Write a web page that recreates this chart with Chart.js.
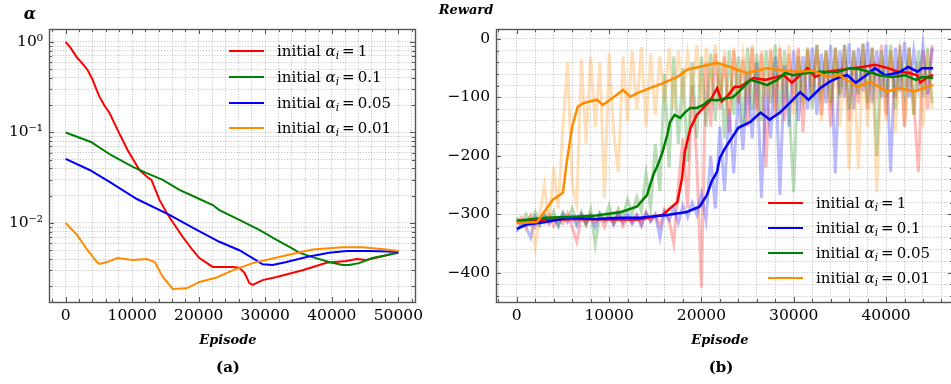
<!DOCTYPE html>
<html>
<head>
<meta charset="utf-8">
<script src="https://cdn.jsdelivr.net/npm/chart.js@4.4.1/dist/chart.umd.min.js"></script>
<style>
  html, body { margin: 0; padding: 0; background: #fff; width: 951px; height: 384px; overflow: hidden; }
  .panel { position: absolute; top: 0; }
  .txt { position: absolute; font-family: 'DejaVu Serif', serif; color: #000; white-space: nowrap; transform: translate(-50%, -50%); }
  .axt { font-size: 13px; font-weight: bold; font-style: italic; }
  .cap { font-size: 15px; font-weight: bold; }
  .leg { position: absolute; font-family: 'DejaVu Serif', serif; font-size: 15px; }
  .leg .row { position: absolute; left: 0; height: 24px; display: flex; align-items: center; white-space: nowrap; transform: translateY(-50%); }
  .leg .sw { display: inline-block; width: 35px; height: 2.5px; margin-right: 13px; }
  .leg sub { font-size: 0.7em; vertical-align: -0.3em; line-height: 0; }
  .leg .eq { margin: 0 3px; }
</style>
</head>
<body>
<canvas id="chartA" class="panel" style="left:0" width="440" height="384"></canvas>
<canvas id="chartB" class="panel" style="left:440px" width="520" height="384"></canvas>

<div class="txt axt" style="left:30px;top:13px;font-size:16px">α</div>
<div class="txt axt" style="left:466px;top:9px">Reward</div>
<div class="txt axt" style="left:228px;top:339px">Episode</div>
<div class="txt axt" style="left:720px;top:339px">Episode</div>
<div class="txt cap" style="left:228px;top:367px">(a)</div>
<div class="txt cap" style="left:721px;top:367px">(b)</div>
<div id="legendA" class="leg" style="left:229px;top:0"></div>
<div id="legendB" class="leg" style="left:768px;top:0"></div>

<script>
// ---- panel (a): alpha over training ----
const a1Ep  = [0, 800, 1650, 2500, 3300, 4000, 4700, 5100, 5800, 6600, 7800, 9300, 11100, 12300, 12900, 14100, 15200, 16100, 17600, 19100, 20100, 22100, 25100, 26100, 26900, 27600, 28100, 29600, 31700, 35600, 39200, 42200, 43700, 45200, 48200, 50000];
const a1    = [1.0, 0.85, 0.68, 0.58, 0.49, 0.39, 0.29, 0.247, 0.2, 0.164, 0.107, 0.064, 0.0385, 0.032, 0.030, 0.018, 0.0129, 0.0102, 0.0070, 0.0050, 0.0041, 0.00327, 0.00327, 0.0032, 0.0028, 0.00217, 0.00207, 0.00234, 0.00253, 0.0030, 0.00363, 0.0038, 0.0040, 0.0039, 0.0044, 0.0048];
const a01Ep = [0, 3800, 6800, 10100, 12200, 14600, 17100, 19700, 22100, 23100, 26100, 29100, 31700, 33900, 35100, 37100, 39600, 41600, 42600, 44100, 46100, 48200, 50000];
const a01   = [0.1, 0.0785, 0.0564, 0.0416, 0.0356, 0.0299, 0.0232, 0.019, 0.0158, 0.0139, 0.0108, 0.0084, 0.0065, 0.0053, 0.0047, 0.0042, 0.0037, 0.00343, 0.00343, 0.0036, 0.0041, 0.0044, 0.0047];
const a005Ep = [0, 3600, 6600, 10700, 15600, 19700, 23100, 26100, 28100, 29600, 31100, 33200, 36200, 39600, 42200, 45600, 50000];
const a005   = [0.051, 0.0385, 0.0284, 0.0184, 0.0123, 0.0084, 0.0062, 0.0050, 0.0041, 0.0035, 0.00343, 0.0037, 0.0042, 0.0047, 0.0049, 0.0049, 0.0048];
const a001Ep = [0, 1700, 3300, 4700, 5100, 6200, 7800, 10100, 12200, 13400, 14600, 16100, 18200, 20100, 22700, 25100, 28100, 33200, 37100, 41600, 44600, 48200, 50000];
const a001   = [0.01, 0.0074, 0.0050, 0.0037, 0.00352, 0.0037, 0.0041, 0.0039, 0.0040, 0.0037, 0.00253, 0.00187, 0.0019, 0.00223, 0.0025, 0.0030, 0.0036, 0.0044, 0.0051, 0.0054, 0.0054, 0.0051, 0.0049];

const alphaTickValues = [1, 0.1, 0.01];
const alphaTickLabels = ['10⁰', '10⁻¹', '10⁻²'];
const episodeTicksA = [0, 10000, 20000, 30000, 40000, 50000];

// ---- panel (b): reward, smoothed curves ----
const s1Ep = [0, 6500, 11200, 13300, 15800, 17400, 17900, 18200, 18800, 19500, 20200, 20900, 21700, 22200, 22900, 23600, 24200, 25600, 26900, 28900, 29800, 31500, 32300, 33600, 35000, 36400, 37400, 38800, 40200, 41300, 42400, 43400, 43700, 44500, 45100];
const s1   = [-312, -308, -309, -309, -301, -279, -238, -193, -153, -130, -118, -107, -84, -107, -96, -82, -82, -67, -70, -62, -75, -50, -65, -56, -53, -50, -48, -44, -50, -56, -58, -62, -75, -65, -62];
const s01Ep = [0, 1000, 3100, 5600, 8600, 11300, 13300, 16300, 18400, 19800, 20600, 21100, 21700, 22000, 22600, 23300, 24000, 25300, 26400, 27400, 28500, 29600, 30700, 31600, 32900, 33900, 35000, 35800, 36700, 37700, 38800, 39900, 41300, 42400, 43400, 43900, 45100];
const s01   = [-325, -318, -313, -306, -308, -306, -306, -301, -296, -287, -267, -244, -227, -203, -186, -169, -152, -142, -126, -138, -126, -109, -91, -104, -84, -73, -65, -62, -75, -64, -50, -62, -58, -48, -56, -50, -50];
const s005Ep = [0, 3100, 6100, 8600, 11300, 13000, 14100, 14800, 15300, 15800, 16300, 16600, 17100, 17700, 18200, 18800, 19500, 20200, 20900, 21700, 22800, 23400, 24200, 25300, 26400, 27100, 28200, 29100, 29900, 31500, 32900, 34700, 36100, 37200, 38100, 39200, 40700, 42100, 43200, 43900, 45100];
const s005   = [-311, -306, -304, -302, -296, -287, -267, -232, -215, -193, -164, -142, -130, -135, -126, -118, -118, -113, -104, -105, -101, -100, -88, -70, -75, -79, -70, -58, -62, -58, -56, -57, -50, -52, -56, -62, -65, -62, -70, -65, -67];
const s001Ep = [0, 2200, 3900, 5000, 5400, 6000, 6600, 7200, 7900, 8700, 9300, 10100, 10800, 11500, 12300, 13000, 14400, 15800, 17400, 18400, 19100, 21700, 23100, 24900, 27100, 28500, 30400, 32100, 33600, 35000, 36900, 38300, 40100, 41500, 43000, 45100];
const s001   = [-315, -313, -275, -263, -212, -150, -116, -110, -107, -104, -113, -104, -96, -87, -99, -93, -84, -76, -65, -53, -50, -41, -48, -58, -50, -53, -56, -54, -65, -62, -82, -73, -90, -84, -90, -79];

// raw (unsmoothed) rewards, one value every RAW_STEP episodes
const RAW_STEP = 500;
const raw1 = [
  -315, -305, -318, -302, -322, -308, -315, -300, -320, -306, -316, -298, -322, -347, -304, -318, -300, -314, -305, -322,
  -302, -316, -298, -320, -305, -315, -300, -318, -296, -312, -302, -320, -292, -310, -350, -250, -170, -290, -80, -210,
  -425, -40, -150, -25, -120, -30, -160, -20, -110, -35, -150, -15, -120, -25, -220, -20, -130, -15, -140, -25,
  -110, -15, -160, -20, -100, -10, -130, -20, -150, -15, -95, -10, -140, -20, -110, -8, -120, -15, -90, -10,
  -130, -20, -100, -10, -150, -15, -110, -228, -20, -120, -10];
const raw01 = [
  -330, -315, -322, -340, -305, -318, -300, -316, -306, -320, -298, -314, -304, -320, -300, -315, -305, -322, -298, -312,
  -302, -318, -300, -314, -296, -316, -302, -320, -298, -312, -300, -340, -296, -310, -290, -315, -285, -305, -280, -300,
  -265, -310, -200, -290, -150, -260, -120, -230, -90, -190, -60, -170, -40, -272, -80, -170, -30, -267, -45, -150,
  -20, -140, -30, -120, -15, -130, -25, -110, -10, -230, -20, -100, -8, -120, -15, -90, -5, -110, -20, -100,
  -10, -228, -15, -90, -5, -100, -20, -80, -10, -95, -15];
const raw005 = [
  -305, -320, -300, -316, -296, -318, -302, -312, -295, -320, -298, -310, -290, -314, -296, -318, -292, -352, -300, -310,
  -285, -312, -290, -305, -275, -300, -270, -295, -230, -290, -180, -260, -60, -220, -30, -180, -50, -210, -40, -170,
  -30, -150, -25, -140, -40, -170, -20, -130, -30, -150, -15, -120, -25, -140, -20, -110, -10, -130, -20, -120,
  -262, -30, -100, -15, -120, -10, -90, -20, -110, -15, -100, -10, -120, -20, -95, -8, -110, -15, -200, -20,
  -100, -10, -120, -25, -90, -15, -130, -20, -100, -15, -110];
const raw001 = [
  -318, -310, -325, -305, -357, -300, -250, -320, -220, -290, -150, -40, -250, -284, -35, -180, -30, -150, -40, -272,
  -25, -160, -228, -30, -140, -20, -120, -14, -150, -25, -130, -30, -110, -15, -120, -20, -100, -25, -90, -10,
  -120, -15, -80, -10, -100, -20, -130, -15, -110, -25, -90, -10, -140, -20, -100, -15, -120, -25, -90, -10,
  -130, -20, -110, -15, -90, -20, -140, -25, -120, -20, -150, -30, -223, -40, -223, -30, -150, -40, -262, -35,
  -140, -20, -160, -30, -150, -25, -130, -40, -150, -20, -120];
const rewardTicks = [0, -100, -200, -300, -400];
const episodeTicksB = [0, 10000, 20000, 30000, 40000];

const legendLabels = {
  a: [['1', '#ff0000'], ['0.1', '#008000'], ['0.05', '#0000ff'], ['0.01', '#ff8c00']],
  b: [['1', '#ff0000'], ['0.1', '#0000ff'], ['0.05', '#008000'], ['0.01', '#ff8c00']]
};

const RED = '#ff0000', GREEN = '#008000', BLUE = '#0000ff', ORANGE = '#ff8c00';
const fade = (rgb) => `rgba(${rgb},0.27)`;

Chart.defaults.font.family = "'DejaVu Serif', serif";
Chart.defaults.color = '#000';

const pts = (xs, ys) => xs.map((x, i) => ({ x, y: ys[i] }));
const rawPts = (ys) => ys.map((y, i) => ({ x: i * RAW_STEP, y }));

function line(data, color, width) {
  return { data, borderColor: color, borderWidth: width, pointRadius: 0, tension: 0, fill: false };
}

// tick list helpers: every minor step gets a gridline, majors also get a label
function linearTicks(from, to, step, majors, fmt) {
  const out = [];
  for (let v = from; v <= to; v += step) {
    const isMajor = majors.includes(v);
    out.push({ value: v, isMajor, txt: isMajor ? fmt(v) : '' });
  }
  return out;
}
function logTicks() {
  const out = [];
  [0.001, 0.01, 0.1, 1].forEach(dec => {
    for (let k = 1; k <= 9; k++) {
      const v = +(dec * k).toPrecision(3);
      if (v < 0.00134 || v > 1.39) continue;
      const mi = alphaTickValues.indexOf(v);
      out.push({ value: v, isMajor: mi >= 0, txt: mi >= 0 ? alphaTickLabels[mi] : '' });
    }
  });
  return out;
}
const minus = (v) => v < 0 ? '\u2212' + Math.abs(v) : String(v);

const gridOpts = { color: 'rgba(0,0,0,0.28)', lineWidth: 0.8, drawTicks: false, borderDash: [1.2, 1.6] };
const borderOpts = { display: false, dash: [1.2, 1.6] };
const tickFont = { family: "'DejaVu Serif', serif", size: 15.5 };

// frame on all four sides with inward tick marks
const frameTicks = {
  id: 'frameTicks',
  afterDraw(chart) {
    const { ctx, chartArea: a, scales } = chart;
    ctx.save();
    ctx.strokeStyle = '#555';
    ctx.lineWidth = 1;
    ctx.beginPath();
    scales.x.ticks.forEach(t => {
      const px = Math.round(scales.x.getPixelForValue(t.value)) + 0.5;
      if (px <= a.left || px >= a.right) return;
      const len = t.isMajor ? 5 : 3;
      ctx.moveTo(px, a.bottom); ctx.lineTo(px, a.bottom - len);
      ctx.moveTo(px, a.top); ctx.lineTo(px, a.top + len);
    });
    scales.y.ticks.forEach(t => {
      const py = Math.round(scales.y.getPixelForValue(t.value)) + 0.5;
      if (py <= a.top || py >= a.bottom) return;
      const len = t.isMajor ? 5 : 3;
      ctx.moveTo(a.left, py); ctx.lineTo(a.left + len, py);
      ctx.moveTo(a.right, py); ctx.lineTo(a.right - len, py);
    });
    ctx.stroke();
    ctx.lineWidth = 1.4;
    ctx.strokeRect(Math.round(a.left) + 0.5, Math.round(a.top) + 0.5, Math.round(a.width), Math.round(a.height));
    ctx.restore();
  }
};

new Chart(document.getElementById('chartA'), {
  type: 'line',
  data: {
    datasets: [
      line(pts(a001Ep, a001), ORANGE, 2),
      line(pts(a005Ep, a005), BLUE, 2),
      line(pts(a01Ep, a01), GREEN, 2),
      line(pts(a1Ep, a1), RED, 2)
    ]
  },
  options: {
    responsive: false,
    animation: false,
    events: [],
    layout: { padding: { left: 0, right: 25, top: 29, bottom: 0 } },
    plugins: { legend: { display: false }, tooltip: { enabled: false } },
    scales: {
      x: {
        type: 'linear', min: -2500, max: 52500, bounds: 'data',
        afterBuildTicks: (s) => { s.ticks = linearTicks(-2000, 52000, 2000, episodeTicksA, String); },
        afterFit: (s) => { s.height = 82; },
        ticks: { autoSkip: false, maxRotation: 0, padding: 5, font: tickFont, callback: (v, i, t) => t[i].txt },
        grid: gridOpts, border: borderOpts
      },
      y: {
        type: 'logarithmic', min: 0.00134, max: 1.39, bounds: 'data',
        afterBuildTicks: (s) => { s.ticks = logTicks(); },
        afterFit: (s) => { s.width = 49; },
        ticks: { autoSkip: false, padding: 6, font: tickFont, callback: (v, i, t) => t[i].txt },
        grid: gridOpts, border: borderOpts
      }
    }
  },
  plugins: [frameTicks]
});

new Chart(document.getElementById('chartB'), {
  type: 'line',
  data: {
    datasets: [
      line(pts(s001Ep, s001), ORANGE, 2.5),
      line(pts(s005Ep, s005), GREEN, 2.5),
      line(pts(s01Ep, s01), BLUE, 2.5),
      line(pts(s1Ep, s1), RED, 2.5),
      line(rawPts(raw001), fade('255,140,0'), 3),
      line(rawPts(raw005), fade('0,128,0'), 3),
      line(rawPts(raw01), fade('0,0,255'), 3),
      line(rawPts(raw1), fade('255,0,0'), 3)
    ]
  },
  options: {
    responsive: false,
    animation: false,
    events: [],
    layout: { padding: { left: 0, right: 7, top: 29, bottom: 0 } },
    plugins: { legend: { display: false }, tooltip: { enabled: false } },
    scales: {
      x: {
        type: 'linear', min: -2250, max: 47250, bounds: 'data',
        afterBuildTicks: (s) => { s.ticks = linearTicks(-2000, 46000, 2000, episodeTicksB, String); },
        afterFit: (s) => { s.height = 82; },
        ticks: { autoSkip: false, maxRotation: 0, padding: 5, font: tickFont, callback: (v, i, t) => t[i].txt },
        grid: gridOpts, border: borderOpts
      },
      y: {
        type: 'linear', min: -450, max: 17, bounds: 'data',
        afterBuildTicks: (s) => { s.ticks = linearTicks(-440, 0, 20, rewardTicks, minus); },
        afterFit: (s) => { s.width = 56; },
        ticks: { autoSkip: false, padding: 6, font: tickFont, callback: (v, i, t) => t[i].txt },
        grid: gridOpts, border: borderOpts
      }
    }
  },
  plugins: [frameTicks]
});

// legends drawn as html text over the plots
function buildLegend(id, entries, rows) {
  const box = document.getElementById(id);
  entries.forEach(([val, color], i) => {
    const row = document.createElement('div');
    row.className = 'row';
    row.style.top = rows[i] + 'px';
    row.innerHTML = `<span class="sw" style="background:${color}"></span>` +
      `<span>initial <i>α<sub>i</sub></i><span class="eq">=</span>${val}</span>`;
    box.appendChild(row);
  });
}
buildLegend('legendA', legendLabels.a, [51, 77, 103, 128]);
buildLegend('legendB', legendLabels.b, [203, 228, 253, 278]);
</script>
</body>
</html>
